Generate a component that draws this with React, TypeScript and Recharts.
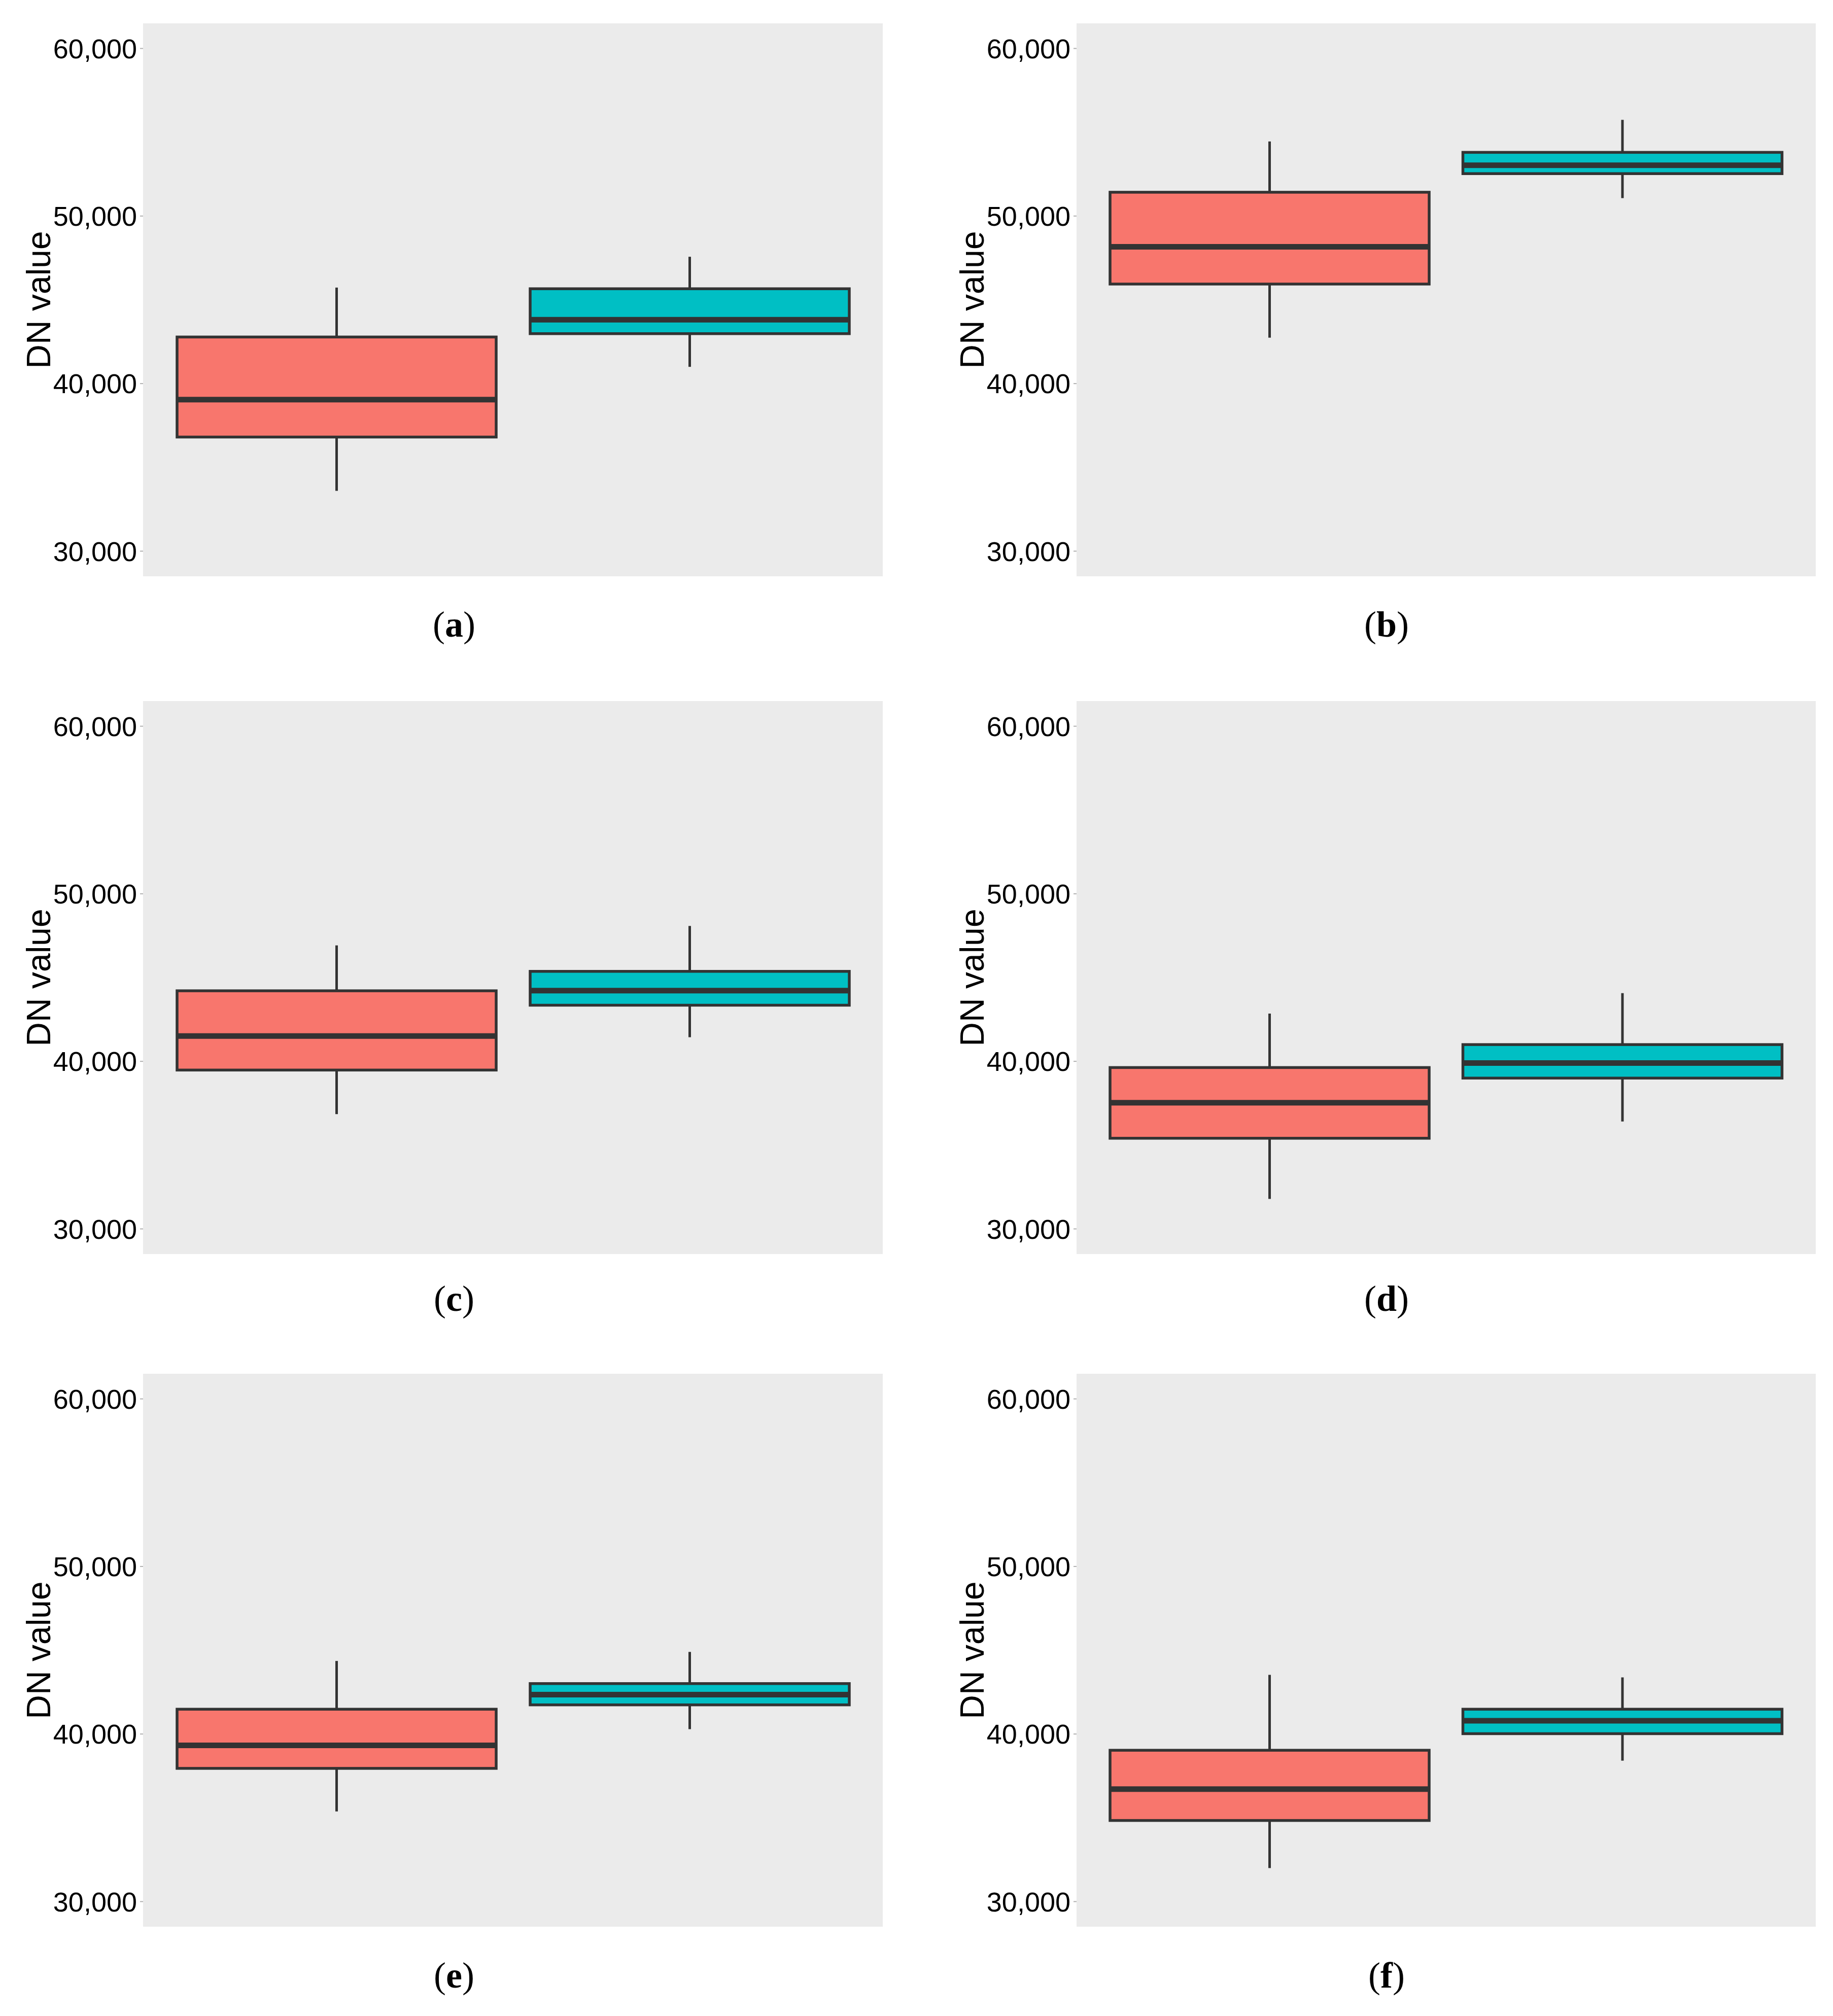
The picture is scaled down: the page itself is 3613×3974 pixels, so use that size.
import React from 'react'
import { BarChart, Bar, XAxis, YAxis, CartesianGrid, Label } from 'recharts'

// five-number summaries [min, q1, median, q3, max]
const groups = ['first', 'second']
const aFirst = [33600, 36810, 39040, 42780, 45730]
const aSecond = [41000, 42980, 43810, 45660, 47570]
const bFirst = [42740, 45940, 48160, 51420, 54450]
const bSecond = [51070, 52530, 53030, 53800, 55740]
const cFirst = [36850, 39480, 41510, 44210, 46920]
const cSecond = [41440, 43350, 44220, 45370, 48080]
const dFirst = [31790, 35410, 37530, 39630, 42850]
const dSecond = [36410, 39000, 39900, 41000, 44070]
const eFirst = [35380, 37950, 39320, 41480, 44360]
const eSecond = [40290, 41740, 42350, 43010, 44900]
const fFirst = [32000, 34840, 36710, 39030, 43530]
const fSecond = [38410, 40020, 40790, 41480, 43380]

const panelLetters = ['a', 'b', 'c', 'd', 'e', 'f']
const panelStats = [
  [aFirst, aSecond],
  [bFirst, bSecond],
  [cFirst, cSecond],
  [dFirst, dSecond],
  [eFirst, eSecond],
  [fFirst, fSecond],
]
const yTicks = [30000, 40000, 50000, 60000]
const yDomain: [number, number] = [28500, 61500]

const FILLS = ['#F8766D', '#00BFC4']
const EDGE = '#333333'

type Row = { group: string; min: number; q1: number; median: number; q3: number; max: number }

function toRows(stats: number[][]): Row[] {
  return groups.map((g, i) => {
    const [min, q1, median, q3, max] = stats[i]
    return { group: g, min, q1, median, q3, max }
  })
}

function fmt(v: number) {
  return v.toLocaleString('en-US')
}

// bar spans [min, max]; the rest is mapped linearly inside that span
function BoxShape(props: any) {
  const { x, y, width, height, payload, index } = props
  const top = Math.min(y, y + height)
  const bottom = Math.max(y, y + height)
  const span = payload.max - payload.min
  const py = (v: number) => bottom - ((v - payload.min) / span) * (bottom - top)
  const cx = x + width / 2
  return (
    <g>
      <line x1={cx} x2={cx} y1={py(payload.max)} y2={py(payload.q3)} stroke={EDGE} strokeWidth={5} />
      <line x1={cx} x2={cx} y1={py(payload.q1)} y2={py(payload.min)} stroke={EDGE} strokeWidth={5} />
      <rect
        x={x}
        y={py(payload.q3)}
        width={width}
        height={py(payload.q1) - py(payload.q3)}
        fill={FILLS[index % 2]}
        stroke={EDGE}
        strokeWidth={5.5}
      />
      <line
        x1={x}
        x2={x + width}
        y1={py(payload.median)}
        y2={py(payload.median)}
        stroke={EDGE}
        strokeWidth={11}
      />
    </g>
  )
}

function yTitle(p: any) {
  const vb = p.viewBox || {}
  const tx = vb.x + 36
  const ty = vb.y + vb.height / 2
  return (
    <text
      x={tx}
      y={ty}
      transform={`rotate(-90, ${tx}, ${ty})`}
      textAnchor="middle"
      dominantBaseline="central"
      fontFamily="'Liberation Sans', Arial, sans-serif"
      fontSize={66}
      fill="#000"
    >
      DN value
    </text>
  )
}

interface PanelProps {
  stats: number[][]
  letter: string
  left: number
  top: number
  width: number
  marginLeft: number
  marginRight: number
  captionX: number
  captionY: number
}

function Panel({ stats, letter, left, top, width, marginLeft, marginRight, captionX, captionY }: PanelProps) {
  return (
    <>
      <div style={{ position: 'absolute', left, top }}>
        <BarChart
          width={width}
          height={1140}
          data={toRows(stats)}
          margin={{ top: 46, right: marginRight, bottom: 4, left: marginLeft }}
          barSize={629}
        >
          <CartesianGrid fill="#EBEBEB" stroke="none" horizontal={false} vertical={false} />
          <XAxis dataKey="group" hide height={0} padding={{ left: 33, right: 33 }} />
          <YAxis
            width={242}
            domain={yDomain}
            ticks={yTicks}
            allowDataOverflow
            tickFormatter={fmt}
            axisLine={false}
            tickLine={{ stroke: '#b0b0b0', strokeWidth: 2 }}
            tickSize={6}
            tickMargin={6}
            tick={{ fill: '#000', fontSize: 54, fontFamily: "'Liberation Sans', Arial, sans-serif" }}
          >
            <Label content={yTitle} />
          </YAxis>
          <Bar
            dataKey={(d: Row) => [d.min, d.max]}
            shape={<BoxShape />}
            isAnimationActive={false}
          />
        </BarChart>
      </div>
      <div
        style={{
          position: 'absolute',
          left: captionX - 200,
          top: captionY - 42,
          width: 400,
          textAlign: 'center',
          fontFamily: "'Liberation Serif', 'Times New Roman', serif",
          fontSize: 72,
          lineHeight: '72px',
          color: '#000',
        }}
      >
        (<b>{letter}</b>)
      </div>
    </>
  )
}

const rowTops = [0, 1336, 2662]
const captionYs = [1237, 2566, 3900]

export default function App() {
  return (
    <div
      style={{
        position: 'absolute',
        left: 0,
        top: 0,
        width: 3613,
        height: 3974,
        background: '#fff',
      }}
    >
      {panelStats.map((stats, i) => {
        const col = i % 2
        const row = Math.floor(i / 2)
        return (
          <Panel
            key={panelLetters[i]}
            stats={stats}
            letter={panelLetters[i]}
            left={col === 0 ? 0 : 1800}
            top={rowTops[row]}
            width={col === 0 ? 1800 : 1813}
            marginLeft={col === 0 ? 40 : 80}
            marginRight={col === 0 ? 60 : 34}
            captionX={col === 0 ? 895 : 2733}
            captionY={captionYs[row]}
          />
        )
      })}
    </div>
  )
}
